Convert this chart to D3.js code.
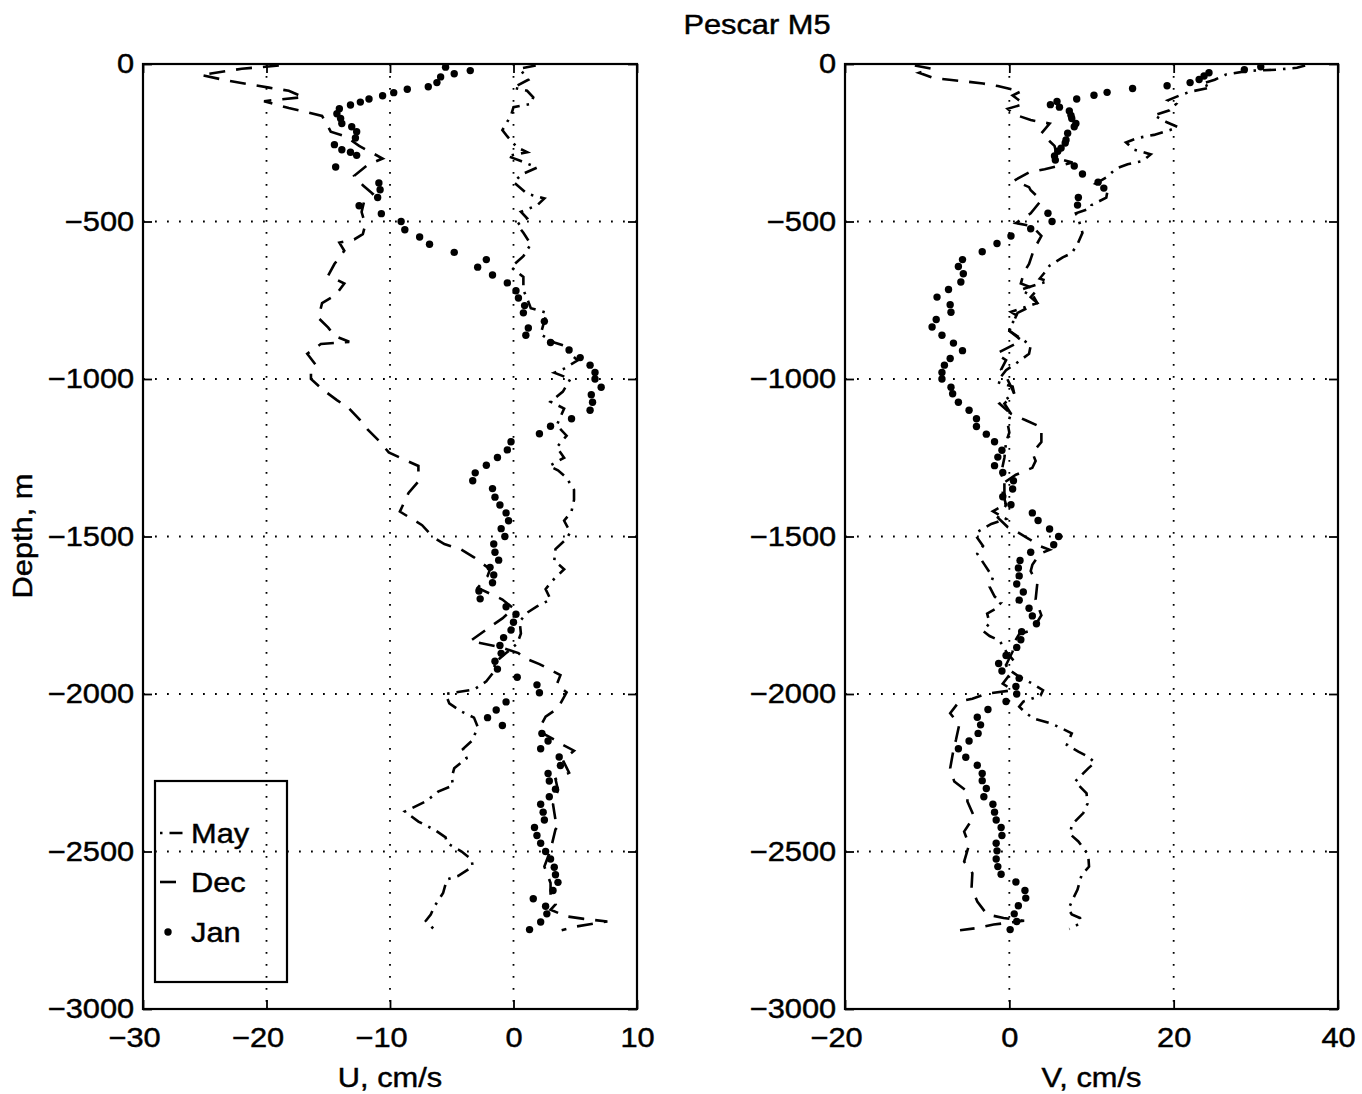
<!DOCTYPE html>
<html><head><meta charset="utf-8">
<script src="https://cdn.jsdelivr.net/npm/d3@7"></script>
<style>
body{margin:0;background:#fff;}
text{font-family:"Liberation Sans",Arial,Helvetica,sans-serif;font-size:28px;fill:#000;stroke:#000;stroke-width:0.45px;}
</style></head>
<body><svg id="c" width="1362" height="1094"></svg>
<script>
// ---------- data: [depth (m), velocity (cm/s)] ----------
const uJan = [[-10,-5.5],[-21,-3.5],[-31,-4.8],[-41,-5.9],[-59,-6.2],[-72,-6.9],[-80,-8.6],[-91,-9.7],[-101,-10.6],[-111,-11.7],[-121,-12.4],[-130,-13.2],[-142,-14.1],[-158,-14.3],[-173,-14.0],[-189,-13.9],[-199,-13.1],[-215,-12.7],[-235,-12.8],[-256,-14.5],[-272,-13.9],[-280,-13.2],[-290,-12.7],[-327,-14.4],[-378,-10.9],[-399,-10.8],[-424,-11.0],[-450,-12.5],[-475,-10.7],[-500,-9.1],[-526,-8.8],[-549,-7.6],[-572,-6.8],[-598,-4.8],[-621,-2.2],[-645,-2.9],[-670,-1.7],[-695,-0.5],[-720,0.2],[-743,0.4],[-767,0.9],[-790,0.8],[-817,2.5],[-838,1.2],[-861,1.0],[-884,3.0],[-908,4.5],[-932,5.4],[-956,6.2],[-979,6.6],[-1000,6.6],[-1026,7.1],[-1050,6.3],[-1074,6.4],[-1099,6.2],[-1126,4.7],[-1150,3.0],[-1174,2.1],[-1199,-0.2],[-1225,-0.5],[-1249,-1.3],[-1274,-2.2],[-1298,-3.1],[-1323,-3.3],[-1348,-1.7],[-1375,-1.5],[-1400,-1.1],[-1425,-0.6],[-1450,-0.4],[-1475,-1.0],[-1500,-0.7],[-1524,-1.6],[-1550,-1.5],[-1575,-1.2],[-1598,-1.9],[-1622,-1.6],[-1647,-1.7],[-1673,-2.8],[-1698,-2.7],[-1723,-0.6],[-1747,0.2],[-1772,0.0],[-1797,-0.2],[-1821,-0.8],[-1846,-1.1],[-1871,-1.0],[-1896,-1.5],[-1921,-1.3],[-1947,0.3],[-1971,1.9],[-1996,2.1],[-2025,-0.6],[-2051,-1.4],[-2075,-2.1],[-2100,-0.9],[-2125,2.3],[-2149,2.8],[-2174,2.2],[-2200,3.7],[-2227,3.8],[-2252,2.8],[-2276,2.9],[-2302,3.4],[-2326,2.9],[-2350,2.2],[-2375,2.4],[-2400,2.5],[-2424,1.7],[-2449,1.9],[-2474,2.2],[-2500,2.6],[-2524,3.0],[-2550,3.3],[-2574,3.4],[-2598,3.6],[-2624,3.2],[-2650,1.6],[-2674,2.6],[-2698,2.7],[-2724,2.2],[-2748,1.3]];

const uDec = [[-5,-19],[-15,-22],[-35,-25.3],[-50,-23.5],[-62,-21.8],[-75,-19.8],[-85,-18.2],[-97,-17.5],[-105,-17],[-118,-20.2],[-140,-18.2],[-150,-17],[-165,-15.5],[-185,-15.2],[-215,-14.8],[-230,-13.6],[-260,-12.5],[-300,-10.6],[-320,-11.8],[-355,-12.9],[-385,-12.2],[-412,-11.4],[-437,-12.1],[-470,-12.3],[-510,-12.0],[-540,-12.2],[-557,-12.9],[-567,-14.1],[-593,-13.7],[-635,-14.5],[-671,-15.0],[-697,-13.7],[-733,-14.4],[-759,-15.5],[-806,-15.8],[-837,-15.0],[-863,-14.5],[-882,-13.3],[-889,-15.6],[-920,-16.7],[-956,-16.0],[-983,-16.4],[-1000,-16.4],[-1035,-15.4],[-1067,-14.3],[-1094,-13.3],[-1131,-12.4],[-1161,-11.8],[-1196,-10.9],[-1233,-10.1],[-1255,-8.9],[-1276,-7.7],[-1325,-7.7],[-1362,-8.5],[-1421,-9.2],[-1464,-7.4],[-1502,-6.5],[-1524,-5.6],[-1540,-4.3],[-1566,-3.2],[-1604,-1.9],[-1626,-2.1],[-1663,-2.9],[-1700,-0.9],[-1728,0],[-1760,-0.9],[-1787,-1.9],[-1832,-3.5],[-1850,-1.2],[-1870,0.4],[-1884,0.8],[-1905,2.1],[-1940,3.8],[-1970,3.5],[-1995,4.3],[-2045,3.6],[-2072,2.6],[-2115,2.0],[-2130,2.6],[-2145,3.3],[-2157,3.8],[-2180,4.9],[-2210,4.0],[-2250,4.5],[-2270,3.4],[-2305,3.6],[-2350,3.2],[-2400,3.4],[-2415,3.7],[-2430,3.4],[-2495,3.0],[-2548,2.5],[-2600,3.0],[-2650,3.0],[-2668,3.4],[-2685,3.0],[-2706,4.3],[-2714,5.7],[-2722,7.6],[-2738,5.1],[-2750,3.9]];

const uMay = [[-5,1.8],[-15,0.5],[-30,0.8],[-50,1.2],[-75,0.0],[-85,1.1],[-106,1.6],[-127,1.4],[-137,0.0],[-163,-0.2],[-210,-0.9],[-230,-0.5],[-265,0.3],[-280,1.1],[-292,-0.5],[-308,0.6],[-329,1.9],[-350,0.7],[-375,0.0],[-412,1.1],[-427,2.5],[-449,1.9],[-469,0.6],[-490,1.1],[-510,0.3],[-536,0.8],[-572,1.4],[-610,0.8],[-645,-0.2],[-676,0.8],[-718,0.8],[-744,1.1],[-775,1.4],[-790,2.7],[-830,2.4],[-858,2.2],[-884,3.3],[-894,4.1],[-910,4.3],[-941,5.2],[-967,4.1],[-980,3.3],[-1000,4.6],[-1040,4.0],[-1072,3.0],[-1094,4.1],[-1147,3.5],[-1180,4.3],[-1217,3.5],[-1250,4.1],[-1276,2.9],[-1290,3.6],[-1314,4.3],[-1352,4.9],[-1384,4.9],[-1420,4.7],[-1450,4.1],[-1486,4.6],[-1507,4.3],[-1540,3.4],[-1577,3.3],[-1604,4.1],[-1642,3.1],[-1667,2.6],[-1700,3.0],[-1722,1.9],[-1742,1.1],[-1770,0.5],[-1808,0.6],[-1840,0.3],[-1870,-0.6],[-1900,-1.5],[-1930,-1.6],[-1960,-2.2],[-1986,-3.2],[-2000,-5.5],[-2030,-5.2],[-2056,-4.2],[-2075,-3.2],[-2104,-2.9],[-2146,-3.3],[-2175,-4.1],[-2204,-3.8],[-2236,-4.8],[-2265,-5.0],[-2290,-4.9],[-2310,-6.1],[-2341,-7.1],[-2373,-8.8],[-2405,-7.7],[-2431,-6.4],[-2455,-5.5],[-2473,-5.4],[-2500,-4.2],[-2525,-3.4],[-2548,-3.3],[-2578,-4.5],[-2589,-5.4],[-2632,-5.7],[-2674,-6.4],[-2700,-6.7],[-2720,-7.1],[-2757,-6.2]];

const vJan = [[-9,30.6],[-18,28.6],[-28,24.3],[-38,23.7],[-49,23.1],[-59,22.0],[-69,19.2],[-78,15.0],[-90,11.9],[-99,10.3],[-111,8.2],[-119,5.8],[-129,5.0],[-137,6.1],[-149,7.3],[-163,7.5],[-173,7.6],[-189,8.1],[-199,7.9],[-220,7.1],[-241,6.9],[-251,6.8],[-267,6.3],[-277,5.9],[-292,5.5],[-305,5.6],[-324,7.9],[-349,8.9],[-375,10.8],[-394,11.5],[-424,8.4],[-448,8.3],[-474,4.7],[-500,5.2],[-523,2.6],[-546,0.2],[-570,-1.5],[-596,-3.3],[-621,-5.7],[-643,-6.2],[-666,-5.6],[-692,-5.9],[-716,-7.4],[-740,-8.8],[-764,-7.2],[-788,-7.1],[-811,-8.9],[-835,-9.4],[-861,-8.2],[-886,-6.8],[-910,-5.7],[-935,-7.2],[-956,-7.9],[-979,-8.2],[-1000,-8.2],[-1026,-7.1],[-1047,-6.9],[-1074,-6.2],[-1099,-4.9],[-1126,-4.0],[-1151,-4.0],[-1175,-2.8],[-1199,-1.8],[-1226,-0.9],[-1248,-1.4],[-1275,-1.8],[-1297,-0.8],[-1323,0.5],[-1349,0.4],[-1374,-0.8],[-1399,0.2],[-1425,2.8],[-1449,3.5],[-1476,4.9],[-1500,6.0],[-1526,5.4],[-1550,2.6],[-1576,1.3],[-1600,1.1],[-1625,1.2],[-1651,0.9],[-1676,1.7],[-1702,1.2],[-1728,2.4],[-1752,2.8],[-1777,3.3],[-1802,1.5],[-1828,1.4],[-1852,0.9],[-1878,-0.4],[-1903,-1.3],[-1927,-0.9],[-1950,1.2],[-1976,0.8],[-2000,0.9],[-2024,-0.4],[-2049,-2.6],[-2074,-3.9],[-2098,-3.5],[-2125,-3.8],[-2149,-4.9],[-2174,-6.2],[-2201,-5.3],[-2226,-3.9],[-2252,-3.3],[-2275,-3.3],[-2300,-2.8],[-2326,-3.1],[-2350,-2.0],[-2375,-1.8],[-2400,-1.6],[-2424,-1.0],[-2449,-0.9],[-2474,-1.6],[-2498,-1.5],[-2524,-1.6],[-2548,-1.4],[-2572,-1.0],[-2597,0.8],[-2624,1.9],[-2648,2.0],[-2672,1.1],[-2698,0.6],[-2722,0.9],[-2748,0.1]];

const vDec = [[-5,-11.5],[-15,-9.5],[-28,-11],[-45,-9.2],[-50,-7.3],[-56,-5.1],[-62,-3.2],[-70,-1.4],[-87,1.4],[-100,0.4],[-127,1.8],[-142,-0.2],[-160,0.6],[-178,2.6],[-189,4.9],[-220,3.9],[-260,5.5],[-300,5.9],[-313,7.7],[-334,4.3],[-344,2.4],[-370,0.6],[-391,2.4],[-401,2.6],[-432,3.9],[-474,2.6],[-505,0.8],[-515,2.8],[-546,3.9],[-588,3.0],[-635,2.4],[-660,1.8],[-697,1.4],[-717,3.4],[-740,2.6],[-759,3.4],[-790,1.0],[-847,0.0],[-878,1.5],[-920,-1.6],[-940,-0.4],[-970,-1.0],[-992,-0.4],[-1024,0.2],[-1047,0.6],[-1078,-0.6],[-1110,0.2],[-1131,2.0],[-1153,3.9],[-1200,3.9],[-1234,2.8],[-1260,3.2],[-1282,2.8],[-1304,0.8],[-1330,-0.7],[-1360,-0.8],[-1400,-0.4],[-1440,-1.4],[-1470,-0.2],[-1480,0.6],[-1508,2.4],[-1530,3.7],[-1542,4.9],[-1555,3.7],[-1590,2.8],[-1610,2.6],[-1650,3.4],[-1700,3.2],[-1750,3.9],[-1780,3.2],[-1800,2.4],[-1810,1.2],[-1840,0.5],[-1865,0.4],[-1908,-0.4],[-1940,0.0],[-1967,-0.8],[-1988,0.4],[-1999,-2.8],[-2015,-4.5],[-2024,-6.1],[-2061,-7.2],[-2098,-6.1],[-2146,-6.5],[-2178,-6.8],[-2236,-7.2],[-2278,-6.7],[-2310,-5.1],[-2341,-5.1],[-2389,-4.3],[-2437,-5.5],[-2479,-4.9],[-2532,-5.5],[-2569,-4.5],[-2616,-4.6],[-2659,-3.9],[-2700,-2.7],[-2711,-0.7],[-2720,1.8],[-2732,-1.9],[-2743,-3.9],[-2750,-6.0]];

const vMay = [[-5,36],[-12,35],[-18,32.5],[-22,29],[-33,26.4],[-50,25],[-62,23.5],[-75,24.5],[-88,22],[-100,20.7],[-115,19.3],[-127,20.3],[-147,19.5],[-163,17.6],[-184,19.1],[-200,20.5],[-210,19.5],[-225,17.6],[-235,15.6],[-249,14.2],[-272,15.2],[-287,17.2],[-308,16.2],[-318,14.4],[-332,13.0],[-360,11.8],[-380,10.5],[-395,12.0],[-424,11.8],[-448,10.0],[-458,9.9],[-474,8.1],[-500,8.5],[-536,8.9],[-572,8.3],[-600,7.6],[-614,6.5],[-640,4.9],[-665,4.2],[-681,3.7],[-690,4.7],[-697,3.7],[-717,1.4],[-740,3.0],[-759,3.4],[-775,1.6],[-787,0.2],[-800,1.0],[-835,0.0],[-847,0.0],[-878,1.8],[-894,2.6],[-920,2.4],[-951,0.8],[-972,-0.4],[-992,-1.0],[-1010,-1.4],[-1024,0.4],[-1047,0.6],[-1078,-1.2],[-1110,0.2],[-1142,-0.2],[-1170,0.0],[-1200,-0.4],[-1250,-0.6],[-1300,-1.0],[-1330,-0.6],[-1360,-0.6],[-1396,-0.4],[-1420,-2.0],[-1444,-0.4],[-1460,-2.2],[-1487,-4.0],[-1497,-4.1],[-1530,-3.2],[-1555,-3.9],[-1590,-3.0],[-1630,-2.0],[-1660,-2.4],[-1690,-1.8],[-1710,-1.0],[-1730,-1.7],[-1745,-2.7],[-1775,-2.4],[-1800,-3.2],[-1816,-2.4],[-1830,-1.2],[-1865,-0.4],[-1890,0.4],[-1908,-0.4],[-1920,-0.2],[-1945,1.2],[-1967,2.8],[-1988,4.1],[-2005,3.8],[-2024,1.7],[-2040,1.2],[-2058,1.9],[-2077,2.9],[-2093,5.0],[-2107,6.2],[-2125,7.6],[-2162,7.0],[-2183,8.4],[-2199,9.6],[-2218,10.4],[-2236,9.6],[-2262,8.6],[-2278,8.0],[-2315,9.4],[-2349,9.5],[-2378,9.0],[-2415,7.6],[-2445,7.4],[-2468,8.4],[-2510,9.6],[-2548,9.7],[-2574,8.8],[-2621,8.3],[-2653,7.7],[-2683,7.2],[-2700,7.6],[-2711,8.6],[-2727,8.7],[-2746,7.3]];

const depthTicks = [0,-500,-1000,-1500,-2000,-2500,-3000];
const uTicks = [-30,-20,-10,0,10];
const vTicks = [-20,0,20,40];
const legendNames = ["May","Dec","Jan"];
const titleText = "Pescar M5";

// ---------- drawing ----------
const svg = d3.select("#c");
const SX = 1.1; // horizontal glyph stretch of the scanned font
const yTop = 64, yBot = 1009;
const y = d3.scaleLinear().domain([0,-3000]).range([yTop,yBot]);
const MAY_DASH = "13,7,2.5,7", DEC_DASH = "16,11";
const LW = 2.6, DOT_R = 3.7;

function panel(x0, x1, domain, ticks, may, dec, jan, xlabel, legend){
  const x = d3.scaleLinear().domain(domain).range([x0,x1]);
  const g = svg.append("g");
  const grid = g.append("g").attr("stroke","#000").attr("stroke-width",1.8)
    .attr("stroke-dasharray","1.8,10.2").attr("fill","none");
  ticks.slice(1,-1).forEach(t=>grid.append("line").attr("x1",x(t)).attr("x2",x(t)).attr("y1",yTop).attr("y2",yBot));
  depthTicks.slice(1,-1).forEach(t=>grid.append("line").attr("x1",x0).attr("x2",x1).attr("y1",y(t)).attr("y2",y(t)));

  const fmt = d3.format("d");
  const ax = g.append("g").attr("transform",`translate(${x0},0)`)
    .call(d3.axisLeft(y).tickValues(depthTicks).tickSizeInner(-9).tickSizeOuter(0).tickPadding(8).tickFormat(fmt));
  const ar = g.append("g").attr("transform",`translate(${x1},0)`)
    .call(d3.axisRight(y).tickValues(depthTicks).tickSizeInner(-9).tickSizeOuter(0).tickFormat(""));
  const ab = g.append("g").attr("transform",`translate(0,${yBot})`)
    .call(d3.axisBottom(x).tickValues(ticks).tickSizeInner(-9).tickSizeOuter(0).tickPadding(18).tickFormat(fmt));
  const at = g.append("g").attr("transform",`translate(0,${yTop})`)
    .call(d3.axisTop(x).tickValues(ticks).tickSizeInner(-9).tickSizeOuter(0).tickFormat(""));
  [ax,ar,ab,at].forEach(a=>{
    a.select(".domain").remove();
    a.selectAll("line").attr("stroke","#000").attr("stroke-width",1.8);
    a.attr("font-size",null).attr("font-family",null);
    a.selectAll("text").attr("fill","#000");
  });
  ax.selectAll("text").attr("transform",`scale(${SX},1)`);
  ab.selectAll("text").attr("transform",`scale(${SX},1)`).attr("dx",d=>d<0?"-0.29em":null);

  const line = d3.line().x(d=>x(d[1])).y(d=>y(d[0]));
  g.append("path").datum(may).attr("d",line).attr("fill","none").attr("stroke","#000")
    .attr("stroke-width",LW).attr("stroke-dasharray",MAY_DASH);
  g.append("path").datum(dec).attr("d",line).attr("fill","none").attr("stroke","#000")
    .attr("stroke-width",LW).attr("stroke-dasharray",DEC_DASH);
  g.append("g").selectAll("circle").data(jan).join("circle")
    .attr("cx",d=>x(d[1])).attr("cy",d=>y(d[0])).attr("r",DOT_R).attr("fill","#000");

  g.append("rect").attr("x",x0).attr("y",yTop).attr("width",x1-x0).attr("height",yBot-yTop)
    .attr("fill","none").attr("stroke","#000").attr("stroke-width",2.2);

  g.append("text").attr("transform",`translate(${(x0+x1)/2},1087) scale(${SX},1)`)
    .attr("text-anchor","middle").text(xlabel);

  if(legend){
    const lg = g.append("g");
    lg.append("rect").attr("x",155).attr("y",781).attr("width",132).attr("height",201)
      .attr("fill","none").attr("stroke","#000").attr("stroke-width",2.2);
    const rows = [833, 882, 932];
    legendNames.forEach((n,i)=>{
      const yy = rows[i];
      if(i===0) lg.append("line").attr("x1",160).attr("x2",185).attr("y1",yy).attr("y2",yy)
        .attr("stroke","#000").attr("stroke-width",LW).attr("stroke-dasharray",MAY_DASH).attr("stroke-dashoffset",20);
      if(i===1) lg.append("line").attr("x1",160).attr("x2",185).attr("y1",yy).attr("y2",yy)
        .attr("stroke","#000").attr("stroke-width",LW).attr("stroke-dasharray",DEC_DASH);
      if(i===2) lg.append("circle").attr("cx",168).attr("cy",yy).attr("r",DOT_R).attr("fill","#000");
      lg.append("text").attr("transform",`translate(191,${yy+10}) scale(${SX},1)`).text(n);
    });
  }
}

panel(143, 637, [-30,10], uTicks, uMay, uDec, uJan, "U, cm/s", true);
panel(845, 1338, [-20,40], vTicks, vMay, vDec, vJan, "V, cm/s", false);

svg.append("text").attr("transform",`translate(757,34) scale(${SX},1)`).attr("text-anchor","middle").text(titleText);
svg.append("text").attr("transform",`translate(32,536) rotate(-90) scale(${SX},1)`).attr("text-anchor","middle").text("Depth, m");
</script>
</body></html>
